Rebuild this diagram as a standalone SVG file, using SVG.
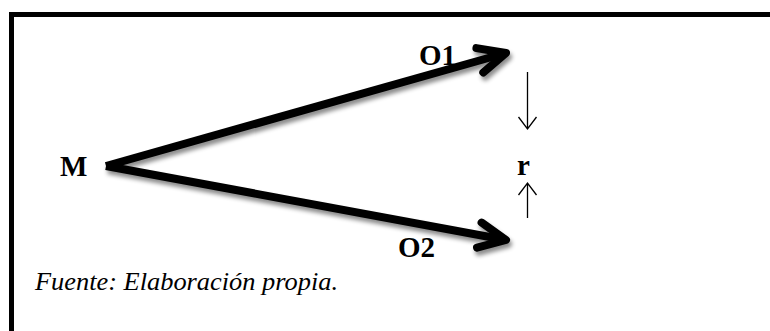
<svg xmlns="http://www.w3.org/2000/svg" width="770" height="331" viewBox="0 0 770 331">
  <defs>
    <filter id="shadow" x="-10%" y="-30%" width="120%" height="160%">
      <feDropShadow dx="2" dy="4" stdDeviation="2" flood-color="#000" flood-opacity="0.45"/>
    </filter>
  </defs>
  <style>
    .frame { fill: none; stroke: #000; stroke-width: 5; }
    .thick { fill: none; stroke: #000; stroke-width: 8; stroke-linejoin: round; stroke-linecap: round; }
    .shaft { fill: none; stroke: #000; stroke-width: 8; stroke-linecap: butt; }
    .thin { fill: none; stroke: #000; stroke-width: 1.3; }
    .lbl { font-family: "Liberation Serif", "Times New Roman", serif; font-weight: bold; font-size: 29px; fill: #000; }
    .src { font-family: "Liberation Serif", "Times New Roman", serif; font-style: italic; font-size: 25px; fill: #000; }
  </style>
  <rect width="770" height="331" fill="#fff"/>
  <rect class="frame" x="11.5" y="14.5" width="800" height="400"/>

  <g id="connectors">
    <g filter="url(#shadow)">
      <path class="shaft" d="M106,166 L506,53"/>
      <path class="thick" d="M476.4,48.1 L506,53 L483.3,72.5"/>
      <path class="shaft" d="M106,166 L506,240"/>
      <path class="thick" d="M481.6,222.6 L506,240 L477,247.6"/>
    </g>
    <path class="thin" d="M527.5,72 L527.5,129 M518.5,117 L527.5,129 L536.5,117"/>
    <path class="thin" d="M527.5,218 L527.5,183 M518.5,195 L527.5,183 L536.5,195"/>
  </g>

  <g id="node-M"><text class="lbl" x="60" y="176">M</text></g>
  <g id="node-O1"><text class="lbl" x="419" y="65">O1</text></g>
  <g id="node-O2"><text class="lbl" x="398" y="257">O2</text></g>
  <g id="node-r"><text class="lbl" x="517" y="175">r</text></g>
  <g id="source"><text class="src" x="35" y="290" textLength="303" lengthAdjust="spacingAndGlyphs">Fuente: Elaboración propia.</text></g>
</svg>
